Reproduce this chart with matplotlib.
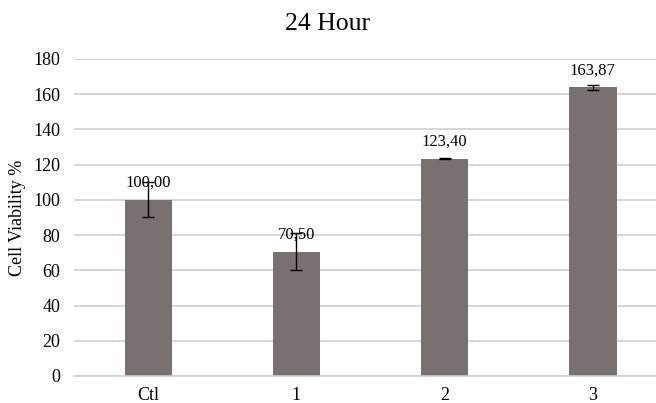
import matplotlib
matplotlib.use("Agg")
from matplotlib import pyplot as plt

categories = ["Ctl", "1", "2", "3"]
viability = [100.00, 70.50, 123.40, 163.87]
errors = [10.0, 10.5, 0.5, 1.5]
value_labels = ["100,00", "70,50", "123,40", "163,87"]

plt.rcParams['font.family'] = ['Liberation Serif', 'DejaVu Serif']

fig = plt.figure(figsize=(6.56, 4.03), dpi=100)
ax = fig.add_axes([0.113, 0.067, 0.887, 0.787])

x = list(range(len(categories)))
ax.bar(x, viability, width=0.32, color='#787170', zorder=2)
ax.errorbar(x, viability, yerr=errors, fmt='none', ecolor='black',
            elinewidth=1, capsize=4, capthick=1, zorder=3)

for xi, v, lab in zip(x, viability, value_labels):
    ax.annotate(lab, (xi, v), xytext=(0, 12), textcoords='offset points',
                ha='center', va='center', fontsize=12, zorder=4)

ax.set_xlim(-0.5, 3.426)
ax.set_ylim(0, 180)
ax.set_yticks(range(0, 181, 20))
ax.set_xticks(x)
ax.set_xticklabels(categories)
ax.tick_params(axis='both', length=0, labelsize=13)
ax.tick_params(axis='x', pad=8)
ax.tick_params(axis='y', pad=10)
ax.yaxis.grid(True, color='#d0d0d0', linewidth=1.2, zorder=0)
ax.set_axisbelow(True)
for s in ['top', 'right', 'left']:
    ax.spines[s].set_visible(False)
ax.spines['bottom'].set_color('#d0d0d0')
ax.spines['bottom'].set_linewidth(1.2)

ax.set_ylabel("Cell Viability %", fontsize=13, labelpad=5)
fig.suptitle("24 Hour", fontsize=18.5, y=0.968)

fig.savefig("out.png", dpi=100)
